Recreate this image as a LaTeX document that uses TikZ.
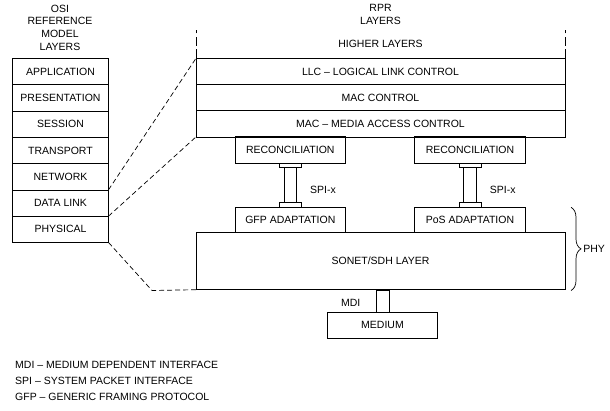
\documentclass[tikz,border=0pt]{standalone}
\usepackage{fontspec}
\setmainfont{Liberation Sans}
\usetikzlibrary{positioning,decorations.pathreplacing}

\begin{document}
\begin{tikzpicture}[
x=1pt,y=-1pt,
node distance=0pt,
line width=0.7pt,
every node/.style={font=\fontsize{10.5}{12.7}\selectfont},
layer/.style={
rectangle,
draw,
outer sep=0pt,
inner sep=0pt,
minimum width=96pt,
minimum height=26.3pt
},
rprlayer/.style={
layer,
minimum width=369pt,
minimum height=26.2pt
},
sublayer/.style={
layer,
minimum width=110.7pt,
minimum height=26.4pt
},
flange/.style={
layer,
minimum width=22pt,
minimum height=4.4pt
},
bar/.style={
layer,
minimum width=12.4pt,
minimum height=35pt
},
link/.style={
dash pattern=on 5pt off 3pt
},
edge/.style={
dash pattern=on 9pt off 3.5pt
}
]

\useasboundingbox (0,0) rectangle (610,410);

\node[align=center] (osi) at (60,27.5) {OSI\\REFERENCE\\MODEL\\LAYERS};
\node[layer] (app) at (60.5,71.5) {APPLICATION};
\node[layer,below=of app] (pre) {PRESENTATION};
\node[layer,below=of pre] (ses) {SESSION};
\node[layer,below=of ses] (tra) {TRANSPORT};
\node[layer,below=of tra] (net) {NETWORK};
\node[layer,below=of net] (dl) {DATA LINK};
\node[layer,below=of dl] (phy) {PHYSICAL};

\node[align=center] (rpr) at (380.5,14.5) {RPR\\LAYERS};
\node (hl) at (380.5,44) {HIGHER LAYERS};
\node[rprlayer] (llc) at (380.5,71.4) {LLC -- LOGICAL LINK CONTROL};
\node[rprlayer,below=of llc] (mc) {MAC CONTROL};
\node[rprlayer,below=of mc] (mac) {MAC -- MEDIA ACCESS CONTROL};

\node[sublayer] (rl) at (290.3,150) {RECONCILIATION};
\node[flange,below=of rl] (f1) {};
\node[bar,below=of f1] (b1) {};
\node[flange,below=of b1] (f2) {};
\node[sublayer,below=of f2,minimum height=25.4pt] (gfp) {GFP ADAPTATION};

\node[sublayer] (rr) at (470,150) {RECONCILIATION};
\node[flange,below=of rr] (f3) {};
\node[bar,below=of f3] (b2) {};
\node[flange,below=of b2] (f4) {};
\node[sublayer,below=of f4,minimum height=25.4pt] (pos) {PoS ADAPTATION};

\node[right=10pt of b1,yshift=-5pt] (spi1) {SPI-x};
\node[right=10pt of b2,yshift=-5pt] (spi2) {SPI-x};

\node[rprlayer,anchor=north,minimum height=57.3pt] (son) at (gfp.south -| mac.south) {SONET/SDH LAYER};

\node[layer,minimum width=13pt,minimum height=22pt] (mdi) at (382.5,301) {};
\node[layer,below=of mdi,minimum width=110pt] (med) {MEDIUM};
\node[left=12pt of mdi,yshift=-2pt] (mdil) {MDI};

\coordinate (bt) at (571,207.3);
\coordinate (bb) at (571,290.5);
\draw[decorate,decoration={brace,amplitude=10pt}] (bt) -- (bb);
\node[anchor=west,inner sep=1pt] (phyl) at (582,249) {PHY};

\coordinate (tl) at (196,30);
\coordinate (tr) at (565,30);
\draw[edge] (llc.north west) -- (tl);
\draw[edge] (llc.north east) -- (tr);

\coordinate (bend) at (152,290.5);
\draw[link] (net.south east) -- (llc.north west);
\draw[link] (dl.south east) -- (mac.south west);
\draw[link] (phy.south east) -- (bend) -- (son.south west);

\node[align=left,anchor=west,font=\fontsize{10.5}{16}\selectfont] (leg) at (11.5,380.5)
{MDI -- MEDIUM DEPENDENT INTERFACE\\SPI -- SYSTEM PACKET INTERFACE\\GFP -- GENERIC FRAMING PROTOCOL};

\end{tikzpicture}
\end{document}
